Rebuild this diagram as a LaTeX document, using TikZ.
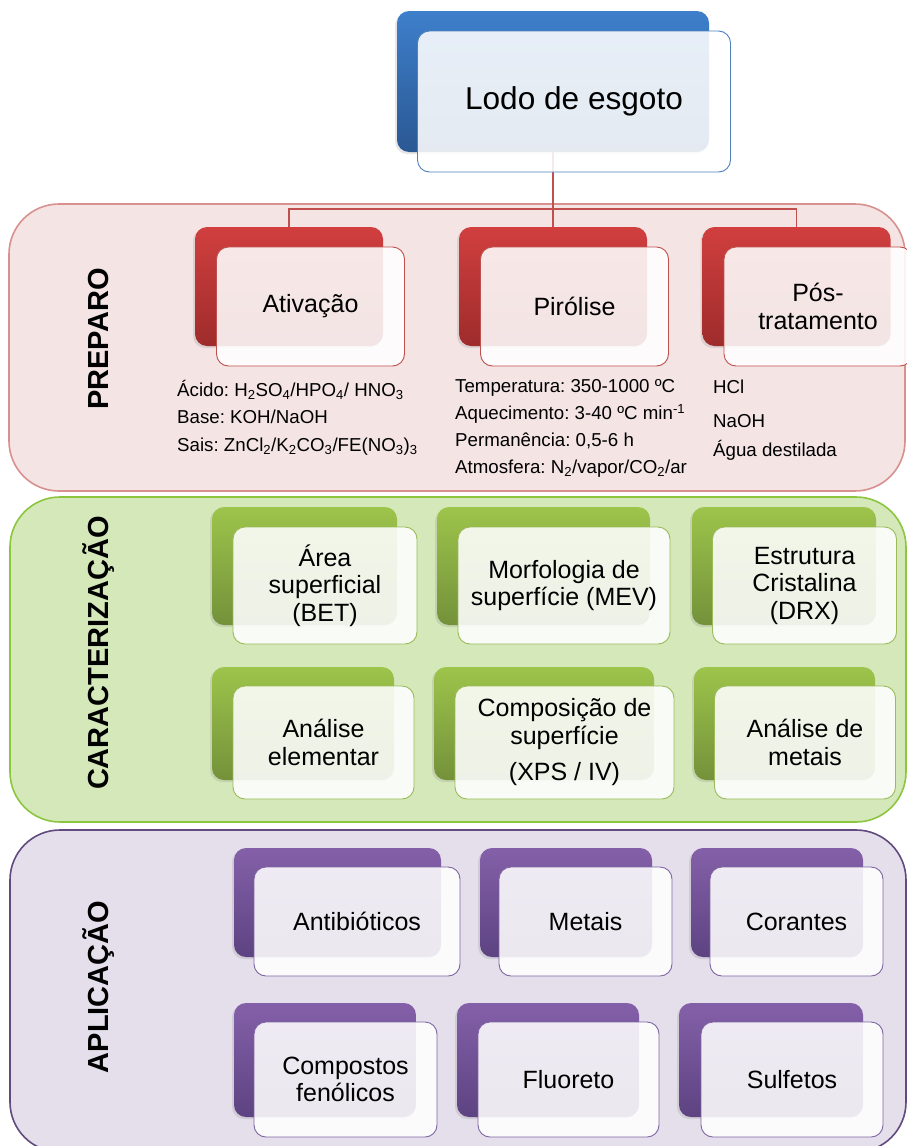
\documentclass[tikz,border=0pt]{standalone}
\usepackage{fontspec}
\setmainfont{Liberation Sans}
\usepackage{tikz}
\usetikzlibrary{shadows}
\frenchspacing
\definecolor{blueT}{HTML}{3E7FCB}
\definecolor{blueB}{HTML}{2A5893}
\definecolor{blueL}{HTML}{4F81BD}
\definecolor{redT}{HTML}{D13F3F}
\definecolor{redB}{HTML}{9E2C2B}
\definecolor{redL}{HTML}{C0504D}
\definecolor{redP}{HTML}{F4E4E4}
\definecolor{redE}{HTML}{D9918F}
\definecolor{greenT}{HTML}{9DC44B}
\definecolor{greenB}{HTML}{74913A}
\definecolor{greenL}{HTML}{9BBB59}
\definecolor{greenP}{HTML}{D5E8BA}
\definecolor{greenE}{HTML}{8CC63F}
\definecolor{purpT}{HTML}{8460A8}
\definecolor{purpB}{HTML}{5D4382}
\definecolor{purpL}{HTML}{8064A2}
\definecolor{purpP}{HTML}{E4DFEB}
\definecolor{purpE}{HTML}{614A7E}
\tikzstyle{panel} = [rounded corners=50pt, line width=1.6pt]
\tikzstyle{back} = [rectangle, rounded corners=12pt, inner sep=0pt,
drop shadow={shadow xshift=-2pt, shadow yshift=-2pt, opacity=0.2}]
\tikzstyle{front} = [rectangle, rounded corners=12pt, fill=white,
fill opacity=0.88, text opacity=1, draw opacity=1, line width=0.9pt,
align=center, inner sep=0pt, font=\fontsize{25}{27.5}\selectfont]
\tikzstyle{blueback} = [back, top color=blueT, bottom color=blueB]
\tikzstyle{redback} = [back, top color=redT, bottom color=redB, minimum width=188pt, minimum height=119pt]
\tikzstyle{greenback} = [back, top color=greenT, bottom color=greenB]
\tikzstyle{purpback} = [back, top color=purpT, bottom color=purpB]
\tikzstyle{bluefront} = [front, draw=blueL]
\tikzstyle{redfront} = [front, draw=redL, minimum width=188pt, minimum height=119pt]
\tikzstyle{greenfront} = [front, draw=greenL]
\tikzstyle{purpfront} = [front, draw=purpL]
\tikzstyle{sidelabel} = [rotate=90, font=\fontsize{29}{32}\selectfont\bfseries]
\tikzstyle{items} = [align=left, anchor=base west, inner sep=0pt,
font=\fontsize{18.7}{27.5}\selectfont]
\tikzstyle{link} = [draw=redL, line width=1.2pt]

\begin{document}
\begin{tikzpicture}[x=1pt, y=-1pt]
\useasboundingbox (0,0) rectangle (907,1146);

% panels
\draw[panel, draw=redE, fill=redP] (9,204) rectangle (905,491);
\draw[panel, draw=greenE, fill=greenP] (10,497) rectangle (906,822);
\draw[panel, draw=purpE, fill=purpP] (10,830) rectangle (906,1152);

\node(preparo)[sidelabel] at (99,339){PREPARO};
\node(caract)[sidelabel] at (99,653){CARACTERIZAÇÃO};
\node(aplic)[sidelabel] at (99,987){APLICAÇÃO};

% back boxes
\node(lodoB)[blueback, minimum width=312pt, minimum height=141pt] at (553,81.5){};
\node(ativB)[redback] at (289,286.5){};
\node(piroB)[redback] at (553,286.5){};
\node(posB)[redback] at (796.5,286.5){};

\node(areaB)[greenback, minimum width=185pt, minimum height=118pt] at (304.5,566){};
\node(morfB)[greenback, minimum width=213pt, minimum height=118pt] at (543.5,566){};
\node(estrB)[greenback, minimum width=184pt, minimum height=118pt] at (784,566){};
\node(elemB)[greenback, minimum width=182pt, minimum height=113pt] at (303,723.5){};
\node(compB)[greenback, minimum width=220pt, minimum height=113pt] at (544,723.5){};
\node(metB)[greenback, minimum width=181pt, minimum height=113pt] at (784.5,723.5){};

\node(antiB)[purpback, minimum width=207pt, minimum height=109pt] at (337.5,902.5){};
\node(metaisB)[purpback, minimum width=172pt, minimum height=109pt] at (566,902.5){};
\node(coraB)[purpback, minimum width=172pt, minimum height=109pt] at (777,902.5){};
\node(fenoB)[purpback, minimum width=182pt, minimum height=114pt] at (325,1060){};
\node(fluoB)[purpback, minimum width=182pt, minimum height=114pt] at (548,1060){};
\node(sulfB)[purpback, minimum width=184pt, minimum height=114pt] at (771,1060){};

% connectors
\coordinate(split) at (553,209);
\draw[link](lodoB.south) -- (piroB.north);
\draw[link](ativB.north) |- (split) -| (posB.north);

% front boxes
\node(lodo)[bluefront, minimum width=313pt, minimum height=141pt,
font=\fontsize{31.6}{34}\selectfont] at ([shift={(21,20)}]lodoB.center){Lodo de esgoto};
\node(ativ)[redfront] at ([shift={(21.5,20)}]ativB.center){Ativação};
\node(piro)[redfront] at ([shift={(21.5,20)}]piroB.center){Pirólise};
\node(pos)[redfront] at ([shift={(21.5,20)}]posB.center){Pós-\\tratamento};

\node(area)[greenfront, minimum width=184pt, minimum height=117pt]
at ([shift={(20.5,19.5)}]areaB.center){Área\\superficial\\(BET)};
\node(morf)[greenfront, minimum width=212pt, minimum height=117pt]
at ([shift={(20.5,19.5)}]morfB.center){Morfologia de\\superfície (MEV)};
\node(estr)[greenfront, minimum width=184pt, minimum height=117pt]
at ([shift={(20.5,19.5)}]estrB.center){Estrutura\\Cristalina\\(DRX)};
\node(elem)[greenfront, minimum width=181pt, minimum height=113pt]
at ([shift={(20.5,19)}]elemB.center){Análise\\elementar};
\node(comp)[greenfront, minimum width=219pt, minimum height=113pt]
at ([shift={(20.5,19)}]compB.center){Composição de\\superfície\\[9pt](XPS / IV)};
\node(met)[greenfront, minimum width=181pt, minimum height=113pt]
at ([shift={(20.5,19)}]metB.center){Análise de\\metais};

\node(anti)[purpfront, minimum width=206pt, minimum height=109pt]
at ([shift={(19.5,19)}]antiB.center){Antibióticos};
\node(metais)[purpfront, minimum width=173pt, minimum height=109pt]
at ([shift={(19.5,19)}]metaisB.center){Metais};
\node(cora)[purpfront, minimum width=173pt, minimum height=109pt]
at ([shift={(19.5,19)}]coraB.center){Corantes};
\node(feno)[purpfront, minimum width=183pt, minimum height=115pt]
at ([shift={(20.5,19.5)}]fenoB.center){Compostos\\fenólicos};
\node(fluo)[purpfront, minimum width=181pt, minimum height=115pt]
at ([shift={(20.5,19.5)}]fluoB.center){Fluoreto};
\node(sulf)[purpfront, minimum width=182pt, minimum height=115pt]
at ([shift={(21,19.5)}]sulfB.center){Sulfetos};

% item lists (base = last line)
\node(ativItems)[items] at (177,451){Ácido: H\textsubscript{2}SO\textsubscript{4}/HPO\textsubscript{4}/ HNO\textsubscript{3}\\
Base: KOH/NaOH\\
Sais: ZnCl\textsubscript{2}/K\textsubscript{2}CO\textsubscript{3}/FE(NO\textsubscript{3})\textsubscript{3}};
\node(piroItems)[items, font=\fontsize{18.7}{26.7}\selectfont] at (455,473){Temperatura: 350-1000 ºC\\
Aquecimento: 3-40 ºC min\textsuperscript{-1}\\
Permanência: 0,5-6 h\\
Atmosfera: N\textsubscript{2}/vapor/CO\textsubscript{2}/ar};
\node(posItems)[items, font=\fontsize{18.7}{29}\selectfont] at (713,456){HCl\\[5pt]NaOH\\Água destilada};

\end{tikzpicture}
\end{document}
